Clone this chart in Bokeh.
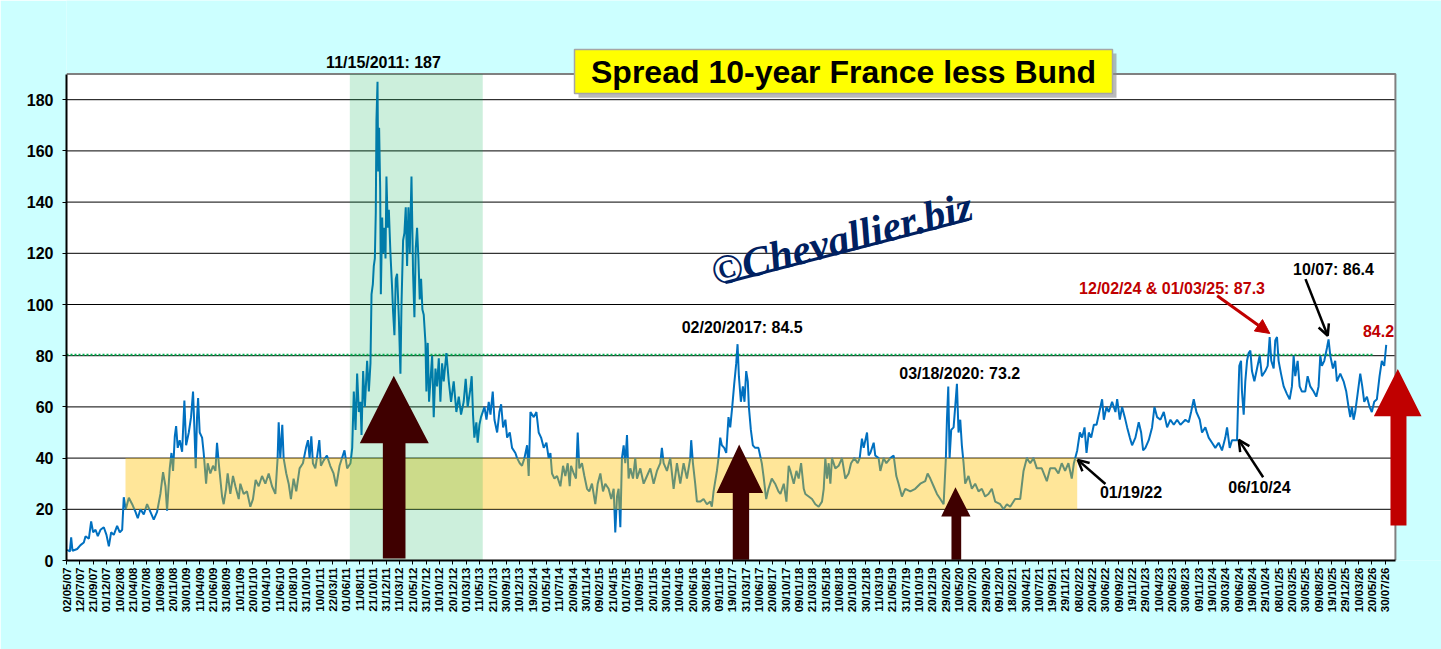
import math
from bokeh.plotting import figure
from bokeh.models import Range1d, FixedTicker, Arrow, OpenHead, NormalHead, Label
from bokeh.core.properties import value
from bokeh.embed import file_html
from bokeh.resources import INLINE

# ---------------- data ----------------
tick_labels = [
    "02/05/07", "12/07/07", "21/09/07", "01/12/07", "10/02/08", "21/04/08", "01/07/08", "10/09/08",
    "20/11/08", "30/01/09", "11/04/09", "21/06/09", "31/08/09", "10/11/09", "20/01/10", "01/04/10",
    "11/06/10", "21/08/10", "31/10/10", "10/01/11", "22/03/11", "01/06/11", "11/08/11", "21/10/11",
    "31/12/11", "11/03/12", "21/05/12", "31/07/12", "10/10/12", "20/12/12", "01/03/13", "11/05/13",
    "21/07/13", "30/09/13", "10/12/13", "19/02/14", "01/05/14", "11/07/14", "20/09/14", "30/11/14",
    "09/02/15", "21/04/15", "01/07/15", "10/09/15", "20/11/15", "30/01/16", "10/04/16", "20/06/16",
    "30/08/16", "09/11/16", "19/01/17", "31/03/17", "10/06/17", "20/08/17", "30/10/17", "09/01/18",
    "21/03/18", "31/05/18", "10/08/18", "20/10/18", "30/12/18", "11/03/19", "21/05/19", "31/07/19",
    "10/10/19", "20/12/19", "29/02/20", "10/05/20", "20/07/20", "29/09/20", "09/12/20", "18/02/21",
    "30/04/21", "10/07/21", "19/09/21", "29/11/21", "08/02/22", "20/04/22", "30/06/22", "09/09/22",
    "19/11/22", "29/01/23", "10/04/23", "20/06/23", "30/08/23", "09/11/23", "19/01/24", "30/03/24",
    "09/06/24", "19/08/24", "29/10/24", "08/01/25", "20/03/25", "30/05/25", "09/08/25", "19/10/25",
    "29/12/25", "10/03/26", "20/05/26", "30/07/26",
]
y_ticks = [0, 20, 40, 60, 80, 100, 120, 140, 160, 180]

# (position on the axis in tick periods, spread in basis points)
spread_2007_2011 = [
    (0.05, 4.2), (0.25, 3.5), (0.35, 9.0), (0.45, 3.8), (0.8, 4.5), (1.05, 6), (1.3, 7), (1.43, 9.5),
    (1.68, 8.5), (1.85, 15.3), (2.0, 11), (2.18, 12), (2.35, 9.5), (2.55, 12), (2.8, 13), (3.0, 10),
    (3.18, 5.5), (3.35, 11), (3.55, 10), (3.8, 13.5), (4.0, 11), (4.18, 12), (4.3, 24.7), (4.45, 20),
    (4.68, 24.5), (4.93, 22), (5.18, 19), (5.35, 16.5), (5.55, 20), (5.8, 18), (6.05, 22), (6.3, 19),
    (6.55, 16), (6.8, 19), (7.05, 26), (7.25, 34.5), (7.43, 29), (7.55, 19.5), (7.75, 36), (7.88, 42),
    (8.0, 35), (8.13, 48.5), (8.23, 52.5), (8.35, 44), (8.5, 47), (8.68, 42.5), (8.85, 62.5), (8.98, 45),
    (9.18, 50), (9.35, 56), (9.5, 66), (9.6, 52), (9.7, 36), (9.8, 56), (9.88, 63.5), (10.0, 50),
    (10.18, 48), (10.3, 42), (10.48, 30), (10.6, 38), (10.8, 34), (11.0, 37), (11.18, 35), (11.3, 46),
    (11.45, 37), (11.68, 25), (11.8, 22), (11.98, 28), (12.1, 34), (12.3, 26), (12.5, 33), (12.68, 29),
    (12.93, 24), (13.05, 30), (13.3, 26), (13.55, 27), (13.8, 21), (14.0, 24), (14.2, 31.5), (14.43, 29),
    (14.68, 33), (14.93, 30), (15.18, 34), (15.43, 29), (15.68, 26), (15.85, 40), (15.93, 54), (16.05, 40),
    (16.2, 53), (16.3, 40), (16.5, 34), (16.68, 30), (16.85, 24), (17.05, 32), (17.25, 27), (17.5, 36),
    (17.75, 38), (17.98, 44), (18.13, 47), (18.25, 40), (18.38, 48.5), (18.5, 38), (18.68, 36), (18.8, 40),
    (18.98, 47), (19.1, 37), (19.3, 39), (19.55, 41), (19.8, 37), (20.05, 34), (20.25, 29), (20.5, 37),
]
spread_2011_2013 = [
    (20.87, 43), (21.07, 36), (21.32, 38), (21.45, 44), (21.57, 66), (21.7, 51), (21.82, 73), (21.95, 58),
    (22.07, 62), (22.15, 49), (22.27, 74), (22.4, 60), (22.57, 78), (22.7, 66), (22.82, 77), (22.9, 104),
    (23.0, 108), (23.07, 115), (23.15, 118), (23.22, 136), (23.27, 172), (23.35, 187), (23.4, 152),
    (23.47, 169), (23.55, 145), (23.6, 104), (23.7, 134), (23.77, 120), (23.87, 130), (23.95, 118),
    (24.02, 150), (24.12, 130), (24.2, 137), (24.32, 120), (24.45, 106), (24.52, 97), (24.62, 88),
    (24.72, 110), (24.82, 112), (24.95, 95), (25.07, 73), (25.15, 100), (25.27, 125), (25.37, 128),
    (25.47, 138), (25.57, 115), (25.67, 138), (25.77, 120), (25.9, 150), (26.02, 112), (26.12, 95),
    (26.22, 122), (26.32, 130), (26.42, 118), (26.52, 102), (26.62, 110), (26.72, 98), (26.82, 96),
    (26.95, 85), (27.02, 66), (27.12, 85), (27.22, 62), (27.32, 70), (27.45, 80), (27.57, 56), (27.7, 75),
    (27.82, 68), (27.95, 79), (28.07, 62), (28.2, 77), (28.32, 70), (28.52, 81), (28.7, 70), (28.87, 62),
    (29.07, 70), (29.27, 58), (29.45, 64), (29.62, 57), (29.82, 62), (29.97, 71), (30.12, 60), (30.32, 67),
    (30.42, 72), (30.52, 57), (30.62, 48), (30.77, 54), (30.87, 46), (31.0, 53), (31.12, 56),
]
spread_2013_2017 = [
    (31.38, 60), (31.53, 55), (31.7, 62), (31.83, 57), (32.0, 66), (32.13, 55), (32.33, 50), (32.5, 58),
    (32.63, 61), (32.78, 52), (32.95, 55), (33.08, 48), (33.28, 50), (33.45, 44), (33.7, 42), (33.83, 40),
    (34.03, 38), (34.2, 37), (34.38, 40), (34.58, 45), (34.7, 33), (34.83, 58), (35.08, 56), (35.28, 58),
    (35.45, 50), (35.63, 48), (35.83, 44), (36.03, 46), (36.2, 40), (36.33, 42), (36.45, 34), (36.63, 32),
    (36.83, 33), (37.08, 29), (37.28, 37), (37.45, 33), (37.63, 38), (37.78, 29), (37.88, 37), (38.08, 34),
    (38.25, 32), (38.38, 50), (38.5, 36), (38.7, 38), (38.88, 33), (39.08, 28), (39.25, 27), (39.45, 30),
    (39.7, 22), (39.88, 30), (40.08, 34), (40.28, 27), (40.45, 30), (40.7, 28), (40.9, 24), (41.08, 28),
    (41.2, 11), (41.33, 25), (41.45, 28), (41.58, 13), (41.7, 40), (41.83, 45), (41.95, 38), (42.08, 49),
    (42.2, 32), (42.33, 36), (42.53, 32), (42.7, 40), (42.83, 32), (43.08, 36), (43.33, 30), (43.58, 33),
    (43.83, 36), (44.08, 30), (44.33, 35), (44.58, 38), (44.7, 44), (44.83, 38), (45.08, 35), (45.33, 40),
    (45.58, 28), (45.83, 38), (46.08, 30), (46.33, 38), (46.58, 32), (46.83, 40), (46.9, 47), (47.03, 38),
    (47.2, 30), (47.33, 23), (47.58, 23), (47.83, 24), (48.08, 22), (48.33, 23), (48.45, 21), (48.58, 27),
    (48.83, 35), (48.95, 40), (49.08, 48), (49.2, 45), (49.38, 44), (49.53, 42), (49.7, 56), (49.83, 52),
    (49.98, 60), (50.13, 69), (50.28, 77), (50.38, 84.5), (50.48, 72), (50.63, 62), (50.78, 68), (50.9, 62),
    (51.03, 74), (51.15, 70), (51.23, 60), (51.38, 51), (51.53, 45), (51.7, 44), (51.95, 44), (52.2, 38),
    (52.33, 33), (52.53, 24), (52.7, 28), (52.95, 32), (53.2, 30), (53.45, 27),
]
spread_2017_2022 = [
    (53.6, 26), (53.85, 30), (54.05, 23), (54.22, 37), (54.35, 35), (54.6, 30), (54.8, 35), (54.97, 32),
    (55.15, 38), (55.35, 28), (55.47, 26), (55.72, 25), (55.97, 24), (56.22, 22), (56.47, 21), (56.72, 23),
    (56.85, 28), (56.97, 40), (57.1, 32), (57.22, 38), (57.35, 30), (57.47, 40), (57.72, 36), (57.97, 37),
    (58.22, 40), (58.47, 32), (58.72, 34), (58.9, 38), (59.15, 40), (59.4, 38), (59.55, 40), (59.72, 47.6),
    (59.85, 44), (60.1, 50), (60.22, 41), (60.35, 42), (60.6, 46), (60.72, 41), (60.97, 40), (61.1, 35),
    (61.35, 40), (61.55, 38), (61.85, 40), (62.1, 41), (62.3, 33), (62.47, 30), (62.72, 25), (62.97, 28),
    (63.35, 27), (63.72, 28), (64.1, 30), (64.47, 31), (64.65, 34), (64.85, 32), (65.1, 29), (65.35, 26),
    (65.6, 24), (65.85, 22), (66.02, 40), (66.1, 55), (66.2, 68), (66.3, 40), (66.42, 51), (66.6, 52),
    (66.72, 60), (66.85, 69), (66.97, 50), (67.1, 55), (67.22, 45), (67.35, 38), (67.47, 30), (67.72, 33),
    (67.97, 28), (68.22, 30), (68.47, 27), (68.72, 28), (68.97, 25), (69.22, 26), (69.47, 28), (69.72, 23),
    (70.1, 22), (70.35, 20), (70.6, 22), (70.85, 21), (71.22, 24), (71.6, 24), (71.85, 35), (72.1, 40),
    (72.35, 38), (72.6, 40), (72.85, 36), (73.22, 36), (73.6, 31), (73.85, 36), (74.22, 36), (74.47, 34),
    (74.72, 38), (74.97, 35), (75.22, 38), (75.47, 32),
]
spread_2022_2026 = [
    (75.63, 38), (75.88, 43), (76.08, 50), (76.25, 48), (76.43, 52), (76.58, 42), (76.75, 50), (76.93, 48),
    (77.13, 53), (77.33, 53), (77.5, 57), (77.75, 63), (77.88, 55), (78.08, 60), (78.25, 58), (78.5, 62),
    (78.75, 58), (78.88, 63), (79.08, 55), (79.25, 60), (79.45, 56), (79.63, 52), (79.83, 48), (80.0, 45),
    (80.25, 48), (80.5, 54), (80.68, 50), (80.83, 43), (81.0, 44), (81.25, 47), (81.5, 52), (81.68, 60),
    (81.88, 56), (82.13, 55), (82.38, 58), (82.63, 52), (82.88, 55), (83.13, 53), (83.38, 55), (83.63, 53),
    (84.0, 55), (84.25, 54), (84.43, 58), (84.63, 63), (84.83, 58), (85.08, 55), (85.25, 50), (85.5, 52),
    (85.75, 48), (86.0, 46), (86.25, 44), (86.5, 46), (86.75, 43), (87.0, 48), (87.13, 52), (87.33, 44),
    (87.5, 47), (87.75, 47), (87.88, 47), (87.95, 60), (88.05, 76), (88.18, 78), (88.25, 66), (88.38, 57),
    (88.5, 70), (88.63, 78), (88.75, 81), (88.88, 82), (89.0, 74), (89.18, 70), (89.38, 75), (89.58, 80),
    (89.75, 72), (90.0, 74), (90.18, 76), (90.33, 87.3), (90.45, 78), (90.63, 75), (90.75, 86), (90.88, 87.3),
    (91.0, 78), (91.18, 73), (91.38, 68), (91.63, 65), (91.83, 63), (92.0, 68), (92.13, 80), (92.25, 72),
    (92.43, 78), (92.58, 68), (92.75, 66), (93.0, 66), (93.18, 72), (93.38, 68), (93.63, 66), (93.83, 64),
    (94.0, 68), (94.13, 80), (94.25, 76), (94.43, 78), (94.63, 83), (94.75, 86.4), (94.88, 80), (95.08, 75),
    (95.25, 78), (95.38, 70), (95.63, 73), (95.88, 70), (96.08, 66), (96.25, 60), (96.38, 56), (96.5, 60),
    (96.63, 55), (96.75, 58), (96.93, 65), (97.13, 73), (97.28, 68), (97.43, 62), (97.63, 64), (97.83, 60),
    (98.0, 58), (98.18, 62), (98.38, 63), (98.58, 72), (98.75, 78), (98.93, 76), (99.08, 84.2),
]
segments = [spread_2007_2011, spread_2011_2013, spread_2013_2017, spread_2017_2022, spread_2022_2026]
period = [t for seg in segments for t, _ in seg]
spread = [v for seg in segments for _, v in seg]

ref_level = 80.4           # green dotted reference
band_range = (4.43, 75.88)  # 20-40 corridor
band_low, band_high = 20, 40
crisis_range = (21.27, 31.25)

# ---------------- figure ----------------
X_END = 99.77
Y_TOP = 190
FONT = "Liberation Sans"

p = figure(width=1441, height=649, x_range=Range1d(0, 103.23), y_range=Range1d(0, 218.75),
           output_backend="svg", toolbar_location=None,
           min_border_left=66, min_border_right=0, min_border_top=0, min_border_bottom=89)
p.background_fill_color = "#ccffff"
p.border_fill_color = "#ccffff"
p.outline_line_color = None
p.xgrid.visible = False
p.ygrid.visible = False

# plot area
p.quad(left=[0], right=[X_END], bottom=[0], top=[Y_TOP], fill_color="white", line_color=None)
grid_vals = [v for v in y_ticks if v > 0]
p.segment(x0=[0] * len(grid_vals), x1=[X_END] * len(grid_vals), y0=grid_vals, y1=grid_vals,
          line_color="black", line_width=1)
p.line([0, X_END, X_END], [Y_TOP, Y_TOP, 0], line_color="#808080", line_width=2)
p.line([0, 98.1], [ref_level, ref_level], line_color="#00b050", line_width=2, line_dash="2 2")

# series
p.line(period, spread, line_color="#0070c0", line_width=2)

# bands
p.quad(left=[band_range[0]], right=[band_range[1]], bottom=[band_low], top=[band_high],
       fill_color="#ffc000", fill_alpha=0.4, line_color=None)
p.quad(left=[crisis_range[0]], right=[crisis_range[1]], bottom=[0], top=[Y_TOP],
       fill_color="#00b050", fill_alpha=0.2, line_color=None)

# block arrows
p.patches(
    xs=[[23.75, 23.75, 22.02, 24.57, 27.2, 25.45, 25.45],
        [50.02, 50.02, 48.8, 50.5, 52.3, 51.25, 51.25],
        [66.44, 66.44, 65.67, 66.74, 67.87, 67.17, 67.17],
        [99.4, 99.4, 98.15, 99.95, 101.73, 100.6, 100.6]],
    ys=[[0.8, 45.8, 45.8, 72.2, 45.8, 45.8, 0.8],
        [0.3, 26.4, 26.4, 45.3, 26.4, 26.4, 0.3],
        [0.3, 17.2, 17.2, 28.6, 17.2, 17.2, 0.3],
        [13.7, 56.3, 56.3, 74.8, 56.3, 56.3, 13.7]],
    fill_color=["#3f0000", "#3f0000", "#3f0000", "#c00000"], line_color=None)

# title box
p.quad(left=[38.44], right=[78.83], bottom=[180.8], top=[198.0], fill_color="#8c8c8c",
       fill_alpha=0.6, line_color=None)
p.quad(left=[38.14], right=[78.53], bottom=[182.4], top=[199.6], fill_color="#ffff00",
       line_color="#a6a6a6", line_width=1.5)
p.text(x=[58.34], y=[191.0], text=["Spread 10-year France less Bund"], text_font=value(FONT),
       text_font_style="bold", text_font_size="32px", text_color="black",
       text_align="center", text_baseline="middle")

# watermark
p.text(x=[58.2], y=[125.5], text=["©Chevallier.biz"], angle=0.255, text_font=value("Liberation Serif"),
       text_font_style="bold italic", text_font_size="42px", text_color="#002060",
       text_align="center", text_baseline="middle")
p.line([49.47, 67.74], [108.6, 133.3], line_color="#002060", line_width=3)

# annotation texts
def note(x, y, txt, color="black"):
    p.text(x=[x], y=[y], text=[txt], text_font=value(FONT), text_font_style="bold",
           text_font_size="16px", text_color=color, text_align="center", text_baseline="middle")

note(23.8, 194.5, "11/15/2011: 187")
note(50.73, 91.0, "02/20/2017: 84.5")
note(67.23, 73.0, "03/18/2020:  73.2")
note(79.92, 26.4, "01/19/22")
note(89.56, 28.5, "06/10/24")
note(83.0, 106.3, "12/02/24 & 01/03/25: 87.3", "#c00000")
note(95.12, 113.7, "10/07: 86.4")
note(98.5, 89.8, "84.2", "#c00000")

# pointer arrows
for xs, ys, xe, ye in [(78.0, 29.9, 75.92, 39.3), (89.84, 32.5, 88.01, 47.1), (93.02, 109.9, 94.69, 87.8)]:
    p.add_layout(Arrow(end=OpenHead(size=11, line_color="black", line_width=2.5),
                       x_start=xs, y_start=ys, x_end=xe, y_end=ye, line_color="black", line_width=2.5))
p.add_layout(Arrow(end=NormalHead(size=14, fill_color="#c00000", line_color="#c00000"),
                   x_start=86.39, y_start=103.4, x_end=90.34, y_end=88.7, line_color="#c00000", line_width=3))

p.add_layout(Label(x=0, y=ref_level, x_offset=-2, text="<", text_color="#00b050", text_font=FONT,
                   text_font_size="20px", text_align="right", text_baseline="middle"))

# axes
p.xaxis.ticker = FixedTicker(ticks=list(range(len(tick_labels))), minor_ticks=[])
p.xaxis.major_label_overrides = {i: s for i, s in enumerate(tick_labels)}
p.xaxis.major_label_orientation = math.pi / 2
p.xaxis.bounds = (0, X_END)
p.xaxis.axis_line_color = "black"
p.xaxis.axis_line_width = 2
p.xaxis.major_tick_line_color = "black"
p.xaxis.major_tick_out = 4
p.xaxis.major_tick_in = 0
p.xaxis.major_label_standoff = 3
p.xaxis.major_label_text_font = FONT
p.xaxis.major_label_text_font_size = "11.5px"
p.xaxis.major_label_text_font_style = "bold"
p.xaxis.major_label_text_color = "black"

p.yaxis.ticker = FixedTicker(ticks=y_ticks, minor_ticks=[])
p.yaxis.bounds = (0, Y_TOP)
p.yaxis.axis_line_color = "black"
p.yaxis.axis_line_width = 2
p.yaxis.major_tick_line_color = "black"
p.yaxis.major_tick_out = 4
p.yaxis.major_tick_in = 0
p.yaxis.major_label_standoff = 9
p.yaxis.major_label_text_font = FONT
p.yaxis.major_label_text_font_size = "16px"
p.yaxis.major_label_text_font_style = "bold"
p.yaxis.major_label_text_color = "black"

open("out.html", "w").write(file_html(p, INLINE))
